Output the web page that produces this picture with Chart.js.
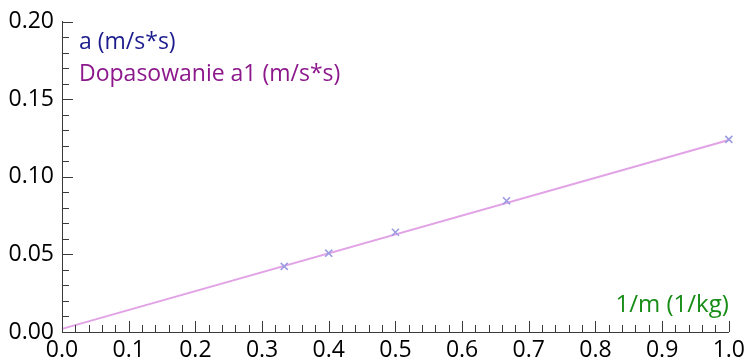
<!DOCTYPE html>
<html>
<head>
<meta charset="utf-8">
<script src="https://cdn.jsdelivr.net/npm/chart.js@4/dist/chart.umd.min.js"></script>
<style>
  html, body { margin: 0; padding: 0; background: #ffffff; }
  #wrap { width: 750px; height: 360px; position: relative; }
</style>
</head>
<body>
<div id="wrap"><canvas id="c" width="750" height="360"></canvas></div>
<script>
// Measured acceleration against inverse mass
const invMass = [0.3333, 0.4, 0.5, 0.6667, 1.0];
const accel = [0.0423, 0.0508, 0.0643, 0.0846, 0.1242];

// Straight-line fit a1 = k * (1/m) + b, evaluated at the ends of the range
const fitX = [0.0, 1.0];
const fitY = [0.0020, 0.1238];

const seriesNames = ['a (m/s*s)', 'Dopasowanie a1 (m/s*s)'];
const xAxisTitle = '1/m (1/kg)';

const xTicks = [0.0, 0.1, 0.2, 0.3, 0.4, 0.5, 0.6, 0.7, 0.8, 0.9, 1.0];
const yTicks = [0.00, 0.05, 0.10, 0.15, 0.20];

const FONT = '"Open Sans", "Noto Sans", sans-serif';
const AXIS_COLOR = '#3a3a3a';

// Inward major/minor tick marks, legend text and the x-axis caption
const decorations = {
  id: 'decorations',
  afterDraw(chart) {
    const { ctx, chartArea: area, scales: { x, y } } = chart;
    ctx.save();
    ctx.strokeStyle = AXIS_COLOR;
    ctx.lineWidth = 1;
    ctx.beginPath();
    for (let i = 0; i <= 50; i++) {
      const v = i * 0.02;
      const px = Math.round(x.getPixelForValue(v)) + 0.5;
      const len = (i % 5 === 0) ? 11 : 7;
      ctx.moveTo(px, area.bottom);
      ctx.lineTo(px, area.bottom - len);
    }
    for (let i = 0; i <= 20; i++) {
      const v = i * 0.01;
      const py = Math.round(y.getPixelForValue(v)) + 0.5;
      const len = (i % 5 === 0) ? 11 : 7;
      ctx.moveTo(area.left, py);
      ctx.lineTo(area.left + len, py);
    }
    ctx.stroke();

    ctx.font = '23px ' + FONT;
    ctx.textBaseline = 'middle';
    ctx.textAlign = 'left';
    const legendColors = ['#1c1c8e', '#8c188c'];
    chart.data.datasets.forEach((ds, i) => {
      ctx.fillStyle = legendColors[i];
      ctx.fillText(ds.label, area.left + 17, area.top + 21 + i * 32);
    });

    ctx.font = '24px ' + FONT;
    ctx.fillStyle = '#178c17';
    ctx.textAlign = 'right';
    ctx.fillText(xAxisTitle, area.right, area.bottom - 27);
    ctx.restore();
  }
};

new Chart(document.getElementById('c'), {
  type: 'scatter',
  data: {
    datasets: [
      {
        label: seriesNames[0],
        data: invMass.map((v, i) => ({ x: v, y: accel[i] })),
        pointStyle: 'crossRot',
        pointRadius: 5,
        pointBorderWidth: 1.6,
        borderColor: '#9c9ce2',
        backgroundColor: '#9c9ce2',
        showLine: false,
        clip: false,
        order: 1
      },
      {
        label: seriesNames[1],
        data: fitX.map((v, i) => ({ x: v, y: fitY[i] })),
        showLine: true,
        pointRadius: 0,
        borderColor: '#e2a2e6',
        borderWidth: 2,
        clip: false,
        order: 2
      }
    ]
  },
  options: {
    responsive: false,
    animation: false,
    layout: { padding: { top: 20, right: 18, left: 0, bottom: 0 } },
    plugins: {
      legend: { display: false },
      tooltip: { enabled: false }
    },
    scales: {
      x: {
        type: 'linear',
        min: 0,
        max: 1,
        afterBuildTicks: (s) => { s.ticks = xTicks.map(v => ({ value: v })); },
        afterFit: (s) => { s.height = 28; },
        ticks: {
          callback: (v) => Number(v).toFixed(1),
          color: '#000',
          font: { family: FONT, size: 23 },
          padding: 5,
          maxRotation: 0,
          autoSkip: false
        },
        grid: { drawOnChartArea: false, drawTicks: false },
        border: { display: true, color: AXIS_COLOR, width: 1 }
      },
      y: {
        type: 'linear',
        min: 0,
        max: 0.2,
        afterBuildTicks: (s) => { s.ticks = yTicks.map(v => ({ value: v })); },
        afterFit: (s) => { s.width = 62; },
        ticks: {
          callback: (v) => Number(v).toFixed(2),
          color: '#000',
          font: { family: FONT, size: 23 },
          padding: 8,
          autoSkip: false
        },
        grid: { drawOnChartArea: false, drawTicks: false },
        border: { display: true, color: AXIS_COLOR, width: 1 }
      }
    }
  },
  plugins: [decorations]
});
</script>
</body>
</html>
